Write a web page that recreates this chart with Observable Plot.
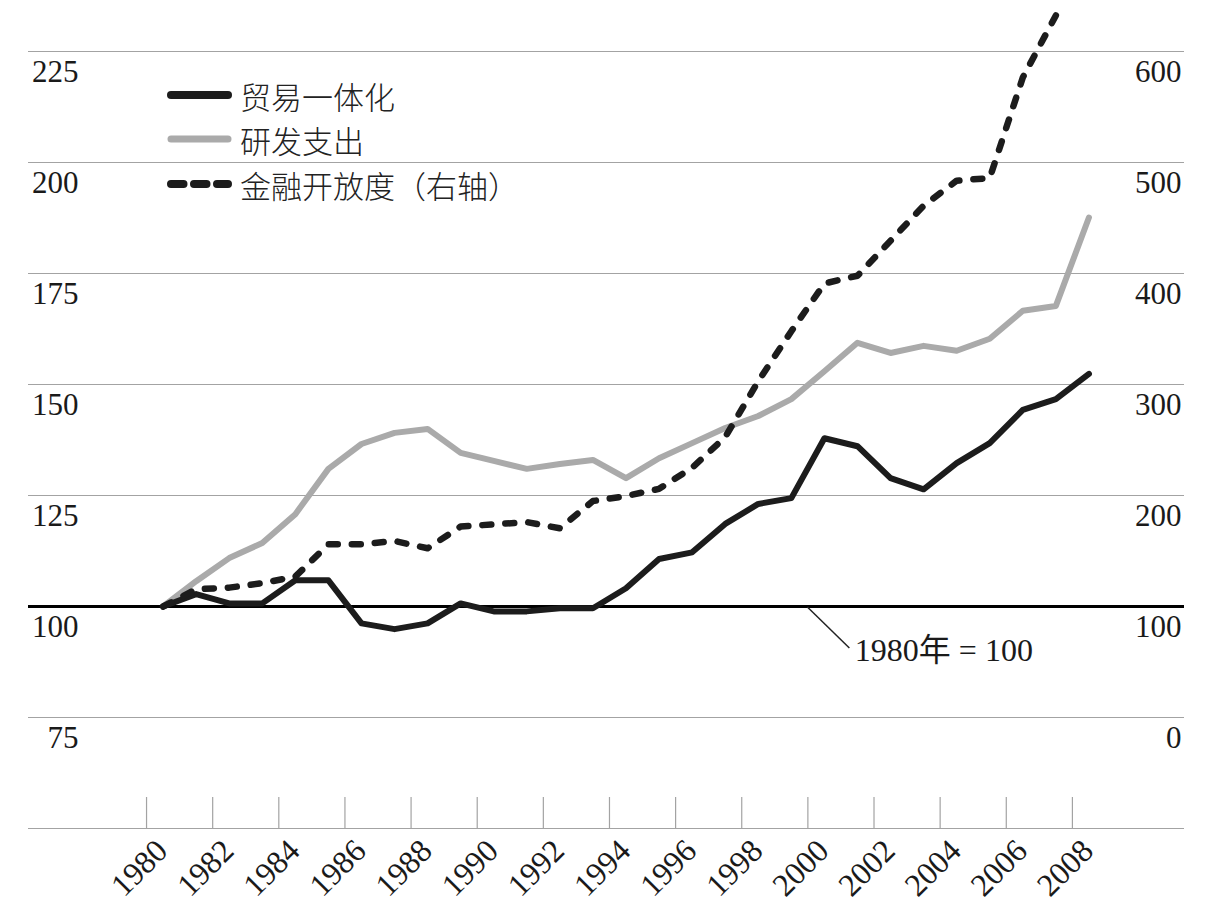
<!DOCTYPE html>
<html>
<head>
<meta charset="utf-8">
<script src="https://cdn.jsdelivr.net/npm/d3@7"></script>
<script src="https://cdn.jsdelivr.net/npm/@observablehq/plot@0.6"></script>
<style>
  html, body { margin: 0; padding: 0; background: #fff; }
  #wrap { position: relative; width: 1216px; height: 924px; overflow: hidden; }
  .legrow { position: absolute; left: 163px; height: 40px; display: flex; align-items: center;
            font-family: "Noto Sans CJK SC", "Noto Sans", sans-serif; font-size: 31px; color: #222; font-weight: 300; white-space: nowrap; }
  .legrow svg { display: block; margin-right: 4px; }
</style>
</head>
<body>
<div id="wrap"></div>
<script>
// ---- data ----
const years = [1980,1981,1982,1983,1984,1985,1986,1987,1988,1989,1990,1991,1992,1993,1994,
               1995,1996,1997,1998,1999,2000,2001,2002,2003,2004,2005,2006,2007,2008];
// 贸易一体化 (left axis, 1980 = 100)
const trade = [100,102.8,100.7,100.7,105.9,105.9,96.2,94.9,96.2,100.7,98.9,98.9,99.6,99.6,104.1,
               110.7,112.2,118.6,123.1,124.4,137.9,136.1,128.9,126.4,132.3,136.8,144.3,146.7,152.4];
// 研发支出 (left axis)
const rnd = [100,105.7,110.9,114.3,120.8,131.0,136.6,139.1,140.0,134.6,132.8,131.0,132.1,133.0,128.9,
             133.4,136.8,140.2,142.9,146.7,153.0,159.4,157.1,158.7,157.6,160.3,166.6,167.7,187.6];
// 金融开放度 (right axis), 1980–2007
const finance = [100,115.5,117,121,127,156,156,159,152.5,172,174,176,170.5,195,199.5,
                 206,225,252.6,303,348,391,398,429.5,461,483.6,486,576.6,632.5];

const seriesNames = ["贸易一体化", "研发支出", "金融开放度（右轴）"];
const leftTicks = [75,100,125,150,175,200,225];
const rightTicks = [0,100,200,300,400,500,600];
const gridValues = [50,75,125,150,175,200,225];
const xTickYears = [1980,1982,1984,1986,1988,1990,1992,1994,1996,1998,2000,2002,2004,2006,2008];
const baseLabel = "1980年 = 100";
const baseValue = 100;
const baseYear = 2000;

// right axis (0–600) ↔ left axis (75–225)
const toLeft = r => 75 + r / 4;
const toRight = l => Math.round((l - 75) * 4);

// ---- tables ----
const tradeRows = years.map((y, i) => ({x: y + 0.5, v: trade[i]}));
const rndRows = years.map((y, i) => ({x: y + 0.5, v: rnd[i]}));
const finRows = finance.map((r, i) => ({x: years[i] + 0.5, v: toLeft(r)}));

const chart = Plot.plot({
  width: 1216,
  height: 924,
  marginTop: 51,
  marginBottom: 96,
  marginLeft: 28,
  marginRight: 32,
  x: {domain: [1976.43, 2011.39], label: null},
  y: {domain: [50, 225], label: null},
  style: {fontFamily: "'Liberation Serif', 'Noto Sans CJK SC', serif", fontSize: "31px", color: "#1a1a1a", background: "#fff"},
  marks: [
    Plot.ruleY(gridValues, {stroke: "#a3a3a3", strokeWidth: 1.2}),
    Plot.tickX(xTickYears, {x: d => d, stroke: "#a3a3a3", strokeWidth: 1.2, insetTop: 746}),
    Plot.axisY(leftTicks, {anchor: "left", tickSize: 0, tickPadding: 0, dx: 50, dy: 21, textAnchor: "end", fill: "#1a1a1a"}),
    Plot.axisY(rightTicks.map(toLeft), {anchor: "right", tickSize: 0, tickPadding: 0, dx: -3, dy: 21, textAnchor: "end", fill: "#1a1a1a", tickFormat: d => String(toRight(d))}),
    Plot.axisX(xTickYears.map(y => y + 0.5), {anchor: "bottom", tickSize: 0, tickPadding: 0, tickRotate: -45, textAnchor: "end", lineAnchor: "middle", dx: -1, dy: 17, fill: "#1a1a1a", fontSize: 32, tickFormat: d => String(d - 0.5)}),
    Plot.line(rndRows, {x: "x", y: "v", stroke: "#aaaaaa", strokeWidth: 6}),
    Plot.ruleY([baseValue], {stroke: "#000", strokeWidth: 3}),
    Plot.line(tradeRows, {x: "x", y: "v", stroke: "#1c1c1c", strokeWidth: 6}),
    Plot.line(finRows, {x: "x", y: "v", stroke: "#1c1c1c", strokeWidth: 6.5, strokeDasharray: "9,14", strokeLinecap: "round"}),
    Plot.text([{x: baseYear, y: baseValue, t: baseLabel}], {x: "x", y: "y", text: "t", dx: 47, dy: 44, textAnchor: "start", fill: "#1a1a1a", fontSize: 32})
  ]
});

// leader line for the 1980 = 100 note
const px = chart.scale("x").apply(baseYear);
const py = chart.scale("y").apply(baseValue);
d3.select(chart).append("line")
  .attr("x1", px).attr("y1", py + 1)
  .attr("x2", px + 42).attr("y2", py + 42)
  .attr("stroke", "#222").attr("stroke-width", 1.5);

const wrap = document.getElementById("wrap");
wrap.appendChild(chart);

// ---- legend (inside the plot area) ----
const legendCenters = [95, 139, 184];
const legendStyles = [
  {stroke: "#1c1c1c", width: 8, dash: null},
  {stroke: "#aaaaaa", width: 7, dash: null},
  {stroke: "#1c1c1c", width: 8, dash: "12.5,10.5"}
];
seriesNames.forEach((name, i) => {
  const row = document.createElement("div");
  row.className = "legrow";
  row.style.top = (legendCenters[i] - 20) + "px";
  const s = legendStyles[i];
  const svg = d3.create("svg").attr("width", 73).attr("height", 16);
  svg.append("line")
    .attr("x1", 8).attr("x2", 65).attr("y1", 8).attr("y2", 8)
    .attr("stroke", s.stroke).attr("stroke-width", s.width)
    .attr("stroke-linecap", "round")
    .attr("stroke-dasharray", s.dash);
  row.appendChild(svg.node());
  const span = document.createElement("span");
  span.textContent = name;
  row.appendChild(span);
  wrap.appendChild(row);
});
</script>
</body>
</html>
